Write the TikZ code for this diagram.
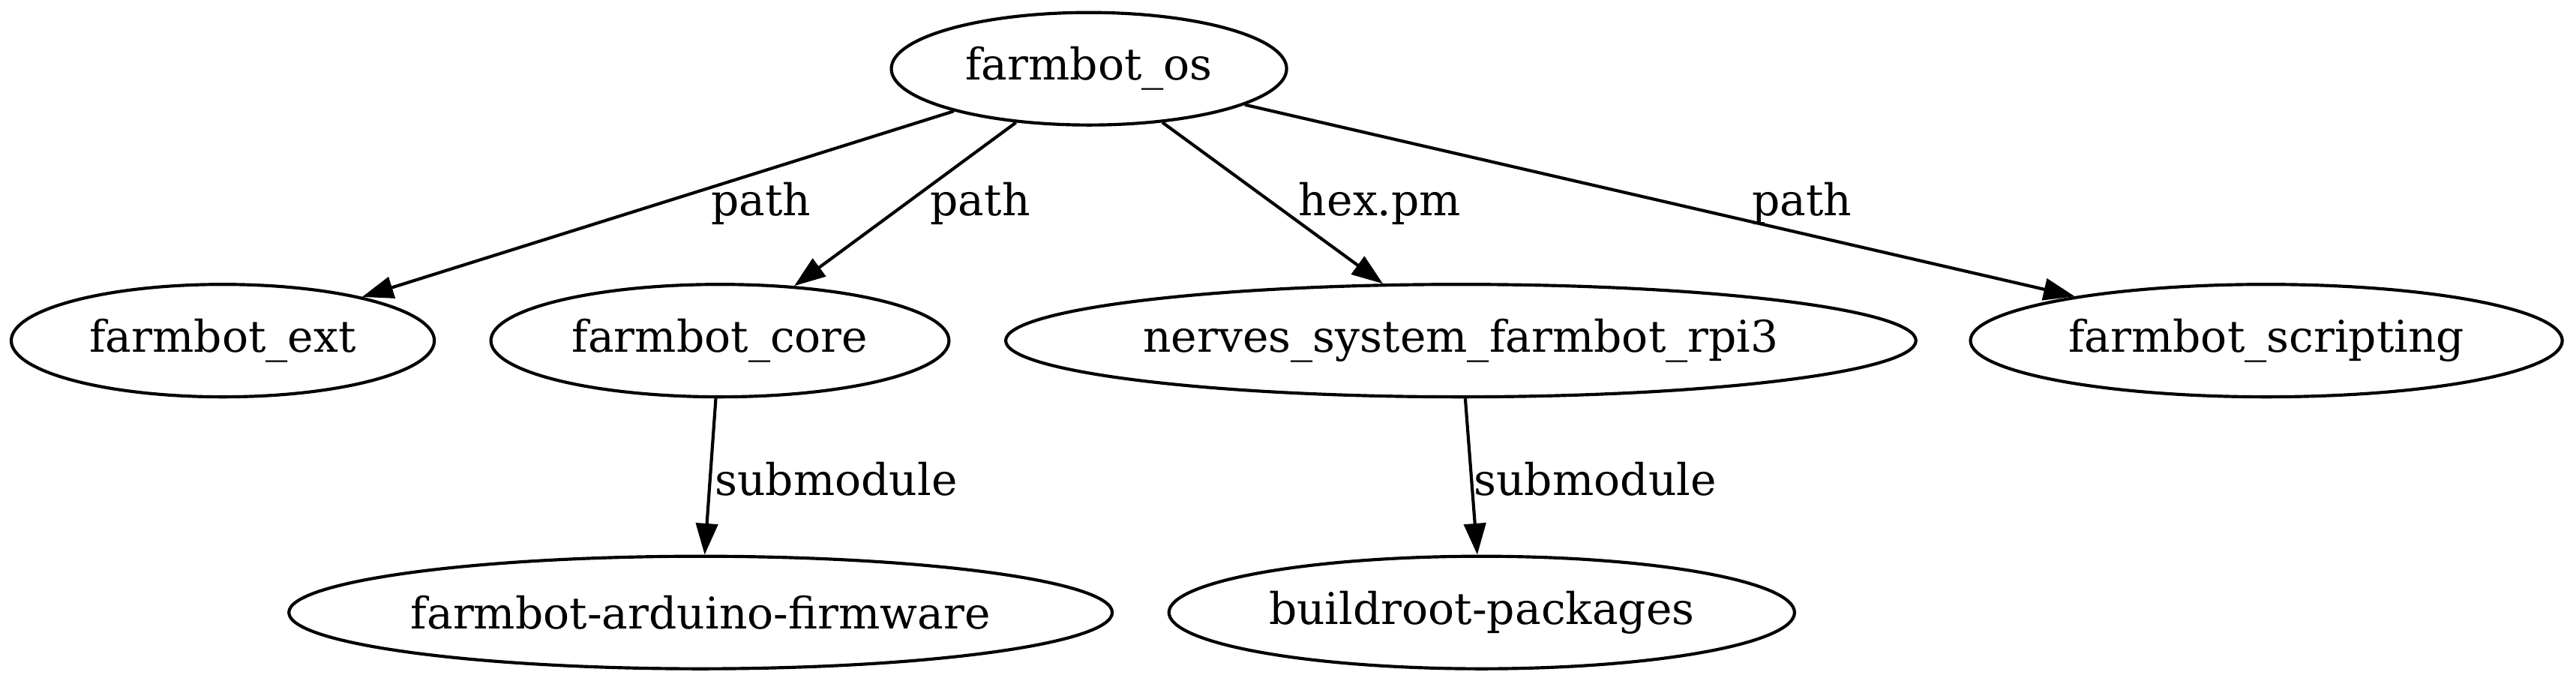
\documentclass[tikz,border=0pt]{standalone}
\usepackage{fontspec}
\setmainfont{DejaVu Serif}
\usetikzlibrary{arrows.meta,shapes.geometric}
\tikzset{every picture/.style={line width=1pt}}

\begin{document}
\begin{tikzpicture}[x=1pt, y=1pt,
    pkg/.style={draw, ellipse, inner sep=0pt, minimum height=36pt, font=\fontsize{14}{16}\selectfont},
    dep/.style={-{Triangle[length=10pt,width=7pt]}},
    lbl/.style={anchor=base, inner sep=0pt, font=\fontsize{14}{16}\selectfont}]
    \useasboundingbox (0,0) rectangle (824.4,217.9);
    % packages
    \node[pkg, minimum width=126.5pt] (os) at (348.5,195.9) {farmbot\_os};
    \node[pkg, minimum width=135.4pt] (ext) at (71.3,108.9) {farmbot\_ext};
    \node[pkg, minimum width=146.6pt] (core) at (230.4,108.9) {farmbot\_core};
    \node[pkg, minimum width=291.3pt] (nerves) at (467.5,108.9) {nerves\_system\_farmbot\_rpi3};
    \node[pkg, minimum width=189.4pt] (scripting) at (725.3,108.9) {farmbot\_scripting};
    \node[pkg, minimum width=263.5pt] (arduino) at (224.2,21.9) {farmbot-arduino-firmware};
    \node[pkg, minimum width=200.2pt] (buildroot) at (474.2,21.9) {buildroot-packages};
    % dependencies
    \draw[dep] (os) -- (ext);
    \draw[dep] (os) -- (core);
    \draw[dep] (os) -- (nerves);
    \draw[dep] (os) -- (scripting);
    \draw[dep] (core) -- (arduino);
    \draw[dep] (nerves) -- (buildroot);
    % edge labels
    \node[lbl] (extlbl) at (243.6,148.8) {path};
    \node[lbl] (corelbl) at (313.7,148.8) {path};
    \node[lbl] (nerveslbl) at (441.6,148.8) {hex.pm};
    \node[lbl] (scriptinglbl) at (576.7,148.8) {path};
    \node[lbl] (arduinolbl) at (267.6,59.5) {submodule};
    \node[lbl] (buildrootlbl) at (510.5,59.5) {submodule};
\end{tikzpicture}
\end{document}
